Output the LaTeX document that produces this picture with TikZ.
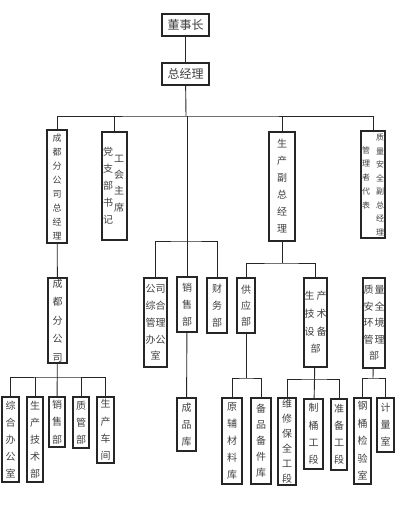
\documentclass[tikz,border=0pt]{standalone}
\usepackage{fontspec}
\newfontfamily\cjk{Noto Sans CJK SC}
\tikzset{
  box/.style={draw=black!85, line width=1.1pt, inner sep=0pt, align=center, text=black!75},
  vt/.style={inner sep=0pt, align=center, text=black!75},
  ln/.style={draw=black!85, line width=0.9pt}
}
\newcommand\mkbox[8]{%
  \node[box, minimum width={#4-#2}, minimum height={#5-#3},
        font=\cjk\fontsize{#6}{#7}\selectfont] (#1) at ({(#2+#4)/2},{(#3+#5)/2}) {#8};}
\begin{document}
\begin{tikzpicture}[x=1pt,y=-1pt]
\useasboundingbox[fill=white] (0,0) rectangle (417,511);
% level 0/1
\mkbox{dsz}{162}{14}{209}{36}{12}{14}{董事长}
\mkbox{zjl}{162}{63}{209}{85}{12}{14}{总经理}
% level 2
\mkbox{cdz}{47}{130}{67}{243}{9}{14}{成\\都\\分\\公\\司\\总\\经\\理}
\mkbox{dzb}{102}{132}{127}{240}{10}{17}{}
\node[vt, font=\cjk\fontsize{10}{17}\selectfont] (dzbt) at (108,186) {党\\支\\部\\书\\记};
\node[vt, font=\cjk\fontsize{10}{16.3}\selectfont] (ghzx) at (119,183.5) {工\\会\\主\\席};
\mkbox{scf}{269}{132}{295}{241}{10}{17}{生\\产\\副\\总\\经\\理}
\mkbox{zla}{361}{131}{385}{238}{8}{13.5}{}
\node[vt, font=\cjk\fontsize{8}{13.5}\selectfont] (zlat) at (380,185) {质\\量\\安\\全\\副\\总\\经\\理};
\node[vt, font=\cjk\fontsize{8}{13.75}\selectfont] (glz) at (366,177.5) {管\\理\\者\\代\\表};
% level 3
\mkbox{cdf}{48}{278}{67}{363}{10}{18.5}{成\\都\\分\\公\\司}
\mkbox{gsz}{144}{278}{167}{367}{10}{16.75}{公司\\综合\\管理\\办公\\室}
\mkbox{xsb}{177}{277}{197}{332}{10}{17}{销\\售\\部}
\mkbox{cwb}{207}{278}{227}{333}{10}{17}{财\\务\\部}
\mkbox{gyb}{237}{278}{255}{333}{10}{16}{供\\应\\部}
\mkbox{scj}{304}{278}{327}{367}{10}{17.7}{生\hspace{2pt}产\\技\hspace{2pt}术\\设\hspace{2pt}备\\部}
\mkbox{zah}{363}{278}{385}{368}{10}{16.5}{质\hspace{1pt}量\\安\hspace{1pt}全\\环\hspace{1pt}境\\管\hspace{1pt}理\\部}
% level 4
\mkbox{zhb}{2}{397}{19}{482}{10}{17}{综\\合\\办\\公\\室}
\mkbox{scjs}{27}{397}{43}{482}{10}{17}{生\\产\\技\\术\\部}
\mkbox{xsb2}{49}{397}{65}{447}{10}{17.5}{销\\售\\部}
\mkbox{zgb}{73}{397}{89}{448}{10}{17}{质\\管\\部}
\mkbox{sccj}{97}{397}{114}{463}{10}{17.3}{生\\产\\车\\间}
\mkbox{cpk}{177}{398}{196}{451}{10}{17}{成\\品\\库}
\mkbox{yfc}{222}{398}{242}{484}{10}{17}{原\\辅\\材\\料\\库}
\mkbox{bpb}{251}{398}{271}{484}{10}{16}{备\\品\\备\\件\\库}
\mkbox{wxb}{278}{398}{296}{485}{10}{15}{维\\修\\保\\全\\工\\段}
\mkbox{ztg}{304}{399}{323}{469}{10}{17.3}{制\\桶\\工\\段}
\mkbox{zbg}{331}{399}{347}{470}{10}{17}{准\\备\\工\\段}
\mkbox{gtj}{354}{398}{371}{484}{10}{17.5}{钢\\桶\\检\\验\\室}
\mkbox{jls}{377}{398}{394}{452}{10}{17}{计\\量\\室}
% connectors
\coordinate (b1) at (186,116);
\coordinate (b2) at (186,241);
\coordinate (b3) at (57,377);
\coordinate (b4) at (282,263);
\coordinate (b5) at (246,378);
\coordinate (b6) at (315,379);
\coordinate (b7) at (373,378);
\draw[ln] (dsz) -- (zjl);
\draw[ln] (zjl) -- (b1);
\draw[ln] (cdz.north) |- (b1) -| (zla.north);
\draw[ln] (dzb.north) -- (dzb.north |- b1);
\draw[ln] (scf.north) -- (scf.north |- b1);
\draw[ln] (xsb.north) -- (xsb.north |- b1);
\draw[ln] (gsz.north) |- (b2) -| (cwb.north);
\draw[ln] (cdz) -- (cdf);
\draw[ln] (zhb.north) |- (b3) -| (sccj.north);
\draw[ln] (cdf) -- (xsb2);
\draw[ln] (scjs.north) -- (scjs.north |- b3);
\draw[ln] (zgb.north) -- (zgb.north |- b3);
\draw[ln] (xsb) -- (cpk);
\draw[ln] (scf) -- (b4);
\draw[ln] (gyb.north) |- (b4) -| (scj.north);
\draw[ln] (gyb) -- (b5);
\draw[ln] (yfc.north) |- (b5) -| (bpb.north);
\draw[ln] (scj) -- (ztg);
\draw[ln] (wxb.north) |- (b6) -| (zbg.north);
\draw[ln] (zah) -- (b7);
\draw[ln] (gtj.north) |- (b7) -| (jls.north);
\end{tikzpicture}
\end{document}
